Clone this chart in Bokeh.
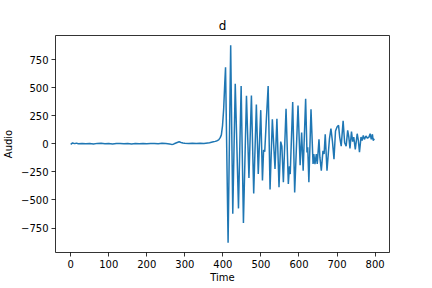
from bokeh.plotting import figure
from bokeh.models import Range1d, FixedTicker
from bokeh.embed import file_html
from bokeh.resources import INLINE

# Time / Audio samples (extrema and shape points)
time = [0, 5, 10, 15, 20, 30, 40, 50, 60, 70, 80, 90, 100, 110, 120, 130, 140, 150,
        160, 170, 180, 190, 200, 210, 220, 230, 240, 250, 260, 265, 270, 275, 280,
        285, 290, 295, 300, 310, 320, 330, 340, 350, 360, 365, 370, 375, 380, 385,
        389, 393, 396, 399, 402, 405, 407,
        413.7, 420.5, 426, 432.5, 441, 448, 454, 462, 468.5, 475, 481, 488, 493,
        499.5, 504, 507, 510, 514, 519, 524, 530, 537, 542, 547.5, 552, 555, 559,
        566, 572, 575, 577, 583.5, 588.7, 597.5, 603, 607, 611, 617.5, 621, 623,
        626, 631.6, 637, 639, 642, 645.6, 648, 652.6, 655, 658.7, 663, 666, 669,
        673.6, 680, 684, 688, 692, 696, 700, 704, 707, 711, 716, 720, 724, 728,
        731, 734, 738, 741, 744, 748, 753, 756, 759, 763, 766, 769, 772, 776, 780,
        784, 787, 790, 793, 795, 798]
audio = [-5, 8, 2, 6, 0, 4, 1, 3, -2, 4, 6, 1, 3, -1, 2, 4, 0, 3,
         -2, 2, 1, 3, 0, 2, 4, 1, 5, 2, -1, -5, -3, 5, 12,
         18, 12, 8, 5, 3, 6, 4, 6, 3, 8, 10, 14, 18, 22, 28,
         35, 55, 80, 160, 307, 543, 682,
         -880, 877, -623, 534, -575, 514, -704, 428, -305, 431, -443, 351, -268,
         300, -327, -55, -70, 200, 514, -407, 218, -224, 224, -387, 20, -20, -342,
         313, -357, -200, -270, 372, -433, 342, -190, 100, -239, 402, -76, -30,
         -342, 307, -180, -92, -180, -92, -180, 40, -121, -239, -62, -90, 86,
         -239, 41, 136, 20, -136, 115, 150, 165, 60, -20, 204, 10, -20, 120,
         60, -40, 110, 20, 60, -50, 90, 30, -75, 60, 30, 75, 40, 70, 50,
         60, 90, 40, 85, 30, 45]

x_ticks = [0, 100, 200, 300, 400, 500, 600, 700, 800]
y_ticks = [-750, -500, -250, 0, 250, 500, 750]

FONT = "DejaVu Sans"

xmin, xmax = min(time), max(time)
ymin, ymax = min(audio), max(audio)
xm = (xmax - xmin) * 0.05
ym = (ymax - ymin) * 0.05

p = figure(width=432, height=288, output_backend="svg", toolbar_location=None,
           x_range=Range1d(xmin - xm, xmax + xm), y_range=Range1d(ymin - ym, ymax + ym),
           min_border_left=54, min_border_right=43, min_border_top=35, min_border_bottom=36,
           title="d")
p.title.align = "center"
p.title.text_font = FONT
p.title.text_font_size = "12px"
p.title.text_font_style = "normal"
p.title.text_color = "#000000"
p.title.standoff = 6

p.background_fill_color = "white"
p.border_fill_color = "white"
p.outline_line_color = "black"
p.outline_line_width = 0.8
p.grid.visible = False

p.line(time, audio, line_color="#1f77b4", line_width=1.5)

for ax in (p.xaxis[0], p.yaxis[0]):
    ax.major_label_text_font = FONT
    ax.major_label_text_font_size = "10px"
    ax.major_label_text_color = "black"
    ax.axis_label_text_font = FONT
    ax.axis_label_text_font_size = "10px"
    ax.axis_label_text_font_style = "normal"
    ax.axis_label_text_color = "black"
    ax.minor_tick_line_color = None
    ax.major_tick_out = 4
    ax.major_tick_in = 0
    ax.major_tick_line_width = 0.8
    ax.axis_line_color = None
    ax.major_label_standoff = 3

p.xaxis.ticker = FixedTicker(ticks=x_ticks)
p.yaxis.ticker = FixedTicker(ticks=y_ticks)
p.yaxis.major_label_overrides = {v: (("\u2212" + str(-v)) if v < 0 else str(v)) for v in y_ticks}
p.xaxis.axis_label = "Time"
p.yaxis.axis_label = "Audio"
p.xaxis.axis_label_standoff = 1
p.yaxis.axis_label_standoff = 4

open("out.html", "w").write(file_html(p, INLINE))
